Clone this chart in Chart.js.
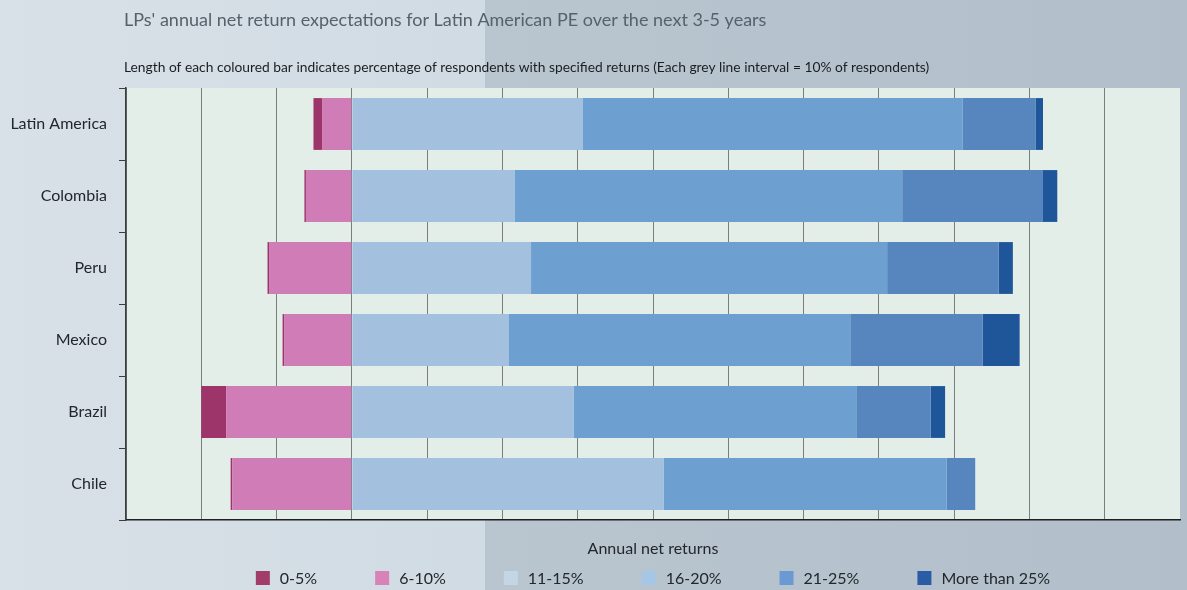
<!DOCTYPE html>
<html>
<head>
<meta charset="utf-8">
<title>LPs' annual net return expectations for Latin American PE</title>
<script src="https://cdn.jsdelivr.net/npm/chart.js@4.4.1/dist/chart.umd.min.js"></script>
<style>
  html, body { margin: 0; padding: 0; }
  body {
    width: 1187px;
    height: 590px;
    overflow: hidden;
    background: linear-gradient(to right, #d8e1e8 0px, #d1dbe3 485px, #b9c5cf 485px, #b2bfca 1187px);
  }
  canvas { display: block; }
</style>
</head>
<body>
<canvas id="returnsChart" width="1187" height="590"></canvas>
<script>
// categories (top to bottom)
const countries = ["Latin America", "Colombia", "Peru", "Mexico", "Brazil", "Chile"];
const bandLabels = ["0-5%", "6-10%", "11-15%", "16-20%", "21-25%", "More than 25%"];

// % of respondents per return band
const ret0to5   = [1.2, 0.2, 0.2, 0.2, 3.3, 0.2];
const ret6to10  = [3.9, 6.1, 11.0, 9.0, 16.7, 15.9];
const ret11to15 = [30.7, 21.6, 23.8, 20.8, 29.5, 41.4];
const ret16to20 = [50.4, 51.5, 47.3, 45.4, 37.5, 37.6];
const ret21to25 = [9.7, 18.7, 14.8, 17.6, 9.9, 3.8];
const retOver25 = [1.0, 1.9, 1.9, 4.9, 1.9, 0];

// x range, each grey line = 10%
const xMin = -30;
const xMax = 110;

const titleText = "LPs' annual net return expectations for Latin American PE over the next 3-5 years";
const subtitleText = "Length of each coloured bar indicates percentage of respondents with specified returns (Each grey line interval = 10% of respondents)";

const barColors = ["#9e356a", "#cf7cb7", "#a3c1df", "#6d9fd0", "#5686bd", "#1f5699"];
const legendColors = ["#a23d6a", "#d982b8", "#c4d6e6", "#a6c6e6", "#6b99d3", "#2a5ca6"];

const seriesValues = [ret0to5, ret6to10, ret11to15, ret16to20, ret21to25, retOver25];

// low return bands go to the left of zero, 6-10% sits next to the axis
const stackOrder = [1, 0, 2, 3, 4, 5];

const datasets = bandLabels.map((label, i) => ({
    label: label,
    data: i < 2 ? seriesValues[i].map(v => -v) : seriesValues[i],
    backgroundColor: barColors[i],
    borderWidth: 0,
    order: stackOrder[i],
    barPercentage: 0.72,
    categoryPercentage: 1
}));

const decorations = {
    id: "decorations",
    beforeDraw(chart) {
        const { ctx, chartArea: a } = chart;
        ctx.save();
        ctx.fillStyle = "#e4eee9";
        ctx.fillRect(a.left, a.top, a.right - a.left, a.bottom - a.top);
        ctx.restore();
    },
    afterDraw(chart) {
        const { ctx, chartArea: a } = chart;
        ctx.save();
        ctx.textBaseline = "middle";
        ctx.textAlign = "left";

        ctx.fillStyle = "#56616b";
        ctx.font = "18px Lato";
        ctx.fillText(titleText, a.left - 2, 20);

        ctx.fillStyle = "#1a1e21";
        ctx.font = "13.8px Lato";
        ctx.fillText(subtitleText, a.left - 2, 68);

        // legend row
        ctx.font = "16px Lato";
        const box = 14, gap = 10, spacing = 58, y = 578;
        const widths = bandLabels.map(t => box + gap + ctx.measureText(t).width);
        const total = widths.reduce((s, w) => s + w, 0) + spacing * (widths.length - 1);
        let x = (a.left + a.right) / 2 - total / 2;
        bandLabels.forEach((t, i) => {
            ctx.fillStyle = legendColors[i];
            ctx.fillRect(x, y - box / 2, box, box);
            ctx.fillStyle = "#22272b";
            ctx.fillText(t, x + box + gap, y + 1);
            x += widths[i] + spacing;
        });
        ctx.restore();
    }
};

const ctx = document.getElementById("returnsChart").getContext("2d");
const returnsChart = new Chart(ctx, {
    type: "bar",
    data: {
        labels: countries,
        datasets: datasets
    },
    options: {
        responsive: false,
        animation: false,
        indexAxis: "y",
        layout: {
            padding: { top: 88, right: 7, bottom: 32, left: 0 }
        },
        plugins: {
            legend: { display: false },
            tooltip: {
                callbacks: {
                    label: (item) => item.dataset.label + ": " + Math.abs(item.raw) + "%"
                }
            }
        },
        scales: {
            x: {
                stacked: true,
                min: xMin,
                max: xMax,
                ticks: { display: false, stepSize: 10 },
                grid: {
                    color: (c) => (c.tick && c.tick.value === xMax) ? "rgba(0,0,0,0)" : "#7a7f7e",
                    lineWidth: 1,
                    drawTicks: false
                },
                border: { display: true, color: "#1d1f20", width: 1.5 },
                title: {
                    display: true,
                    text: "Annual net returns",
                    color: "#22272b",
                    font: { family: "Lato", size: 16 },
                    padding: { top: 0, bottom: 0 }
                },
                afterFit: (s) => { s.height = 38; }
            },
            y: {
                stacked: true,
                ticks: {
                    color: "#22272b",
                    font: { family: "Lato", size: 16 },
                    padding: 12
                },
                grid: {
                    drawOnChartArea: false,
                    offset: true,
                    tickLength: 7,
                    color: "#3a3d3f",
                    lineWidth: 1
                },
                border: { display: true, color: "#3a3d3f", width: 1.5 },
                afterFit: (s) => { s.width = 126; }
            }
        }
    },
    plugins: [decorations]
});
</script>
</body>
</html>
